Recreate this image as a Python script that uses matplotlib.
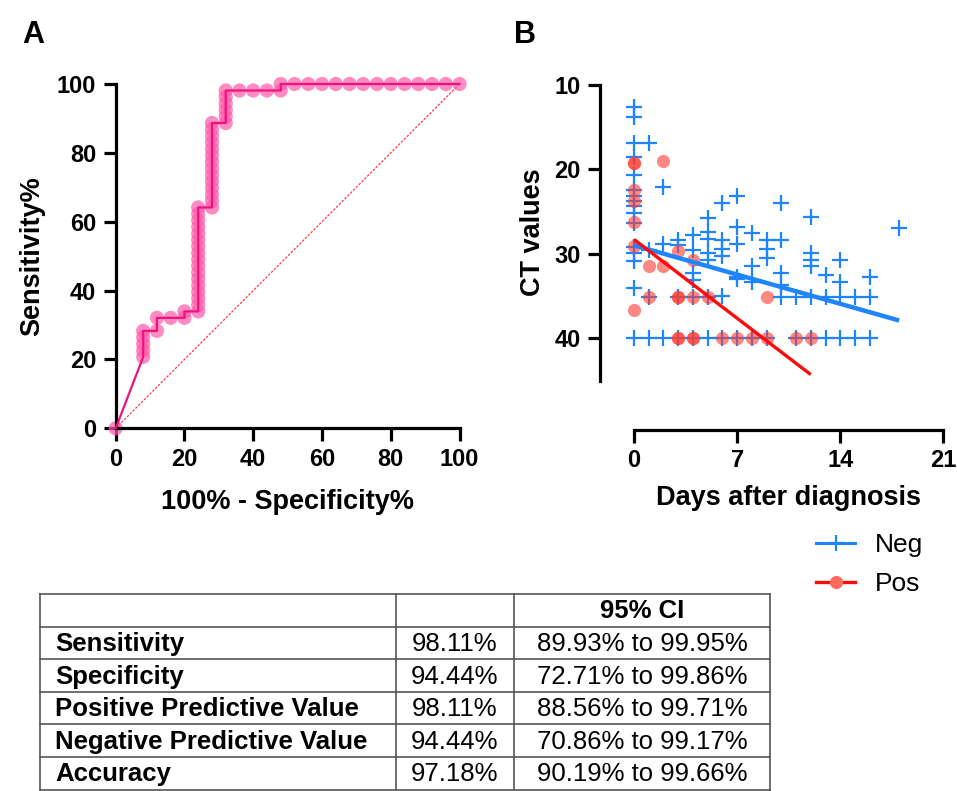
import matplotlib
matplotlib.use("Agg")
import matplotlib.pyplot as plt
from matplotlib.lines import Line2D

plt.rcParams['font.family'] = ['Liberation Sans', 'DejaVu Sans']

# ---------------- data: panel A (ROC) ----------------
roc_fpr = [0,
           8, 8, 8, 8, 8,
           12, 12,
           16,
           20, 20,
           24, 24, 24, 24, 24, 24, 24, 24, 24, 24, 24, 24, 24, 24, 24, 24, 24,
           28, 28, 28, 28, 28, 28, 28, 28, 28, 28, 28, 28, 28, 28,
           32, 32, 32, 32, 32, 32,
           36, 40, 44,
           48, 48,
           52, 56, 60, 64, 68, 72, 76, 80, 84, 88, 92, 96, 100]
roc_sens = [0,
            20.75, 22.64, 24.53, 26.42, 28.30,
            28.30, 32.08,
            32.08,
            32.08, 33.96,
            33.96, 35.85, 37.74, 39.62, 41.51, 43.40, 45.28, 47.17, 49.06,
            50.94, 52.83, 54.72, 56.60, 58.49, 60.38, 62.26, 64.15,
            64.15, 66.04, 67.92, 69.81, 71.70, 73.58, 75.47, 77.36, 79.25,
            81.13, 83.02, 84.91, 86.79, 88.68,
            88.68, 90.57, 92.45, 94.34, 96.23, 98.11,
            98.11, 98.11, 98.11,
            98.11, 100,
            100, 100, 100, 100, 100, 100, 100, 100, 100, 100, 100, 100, 100]
diag_x = [0, 100]
diag_y = [0, 100]
roc_ticks = [0, 20, 40, 60, 80, 100]

# ---------------- data: panel B (CT values) ----------------
neg_day = ([0] * 16 + [1] * 4 + [2] * 3 + [3] * 4 + [4] * 6 + [5] * 7 + [6] * 6 +
           [7] * 6 + [8] * 4 + [9] * 4 + [10] * 5 + [11] * 2 + [12] * 6 + [13] * 3 +
           [14] * 4 + [15] * 2 + [16] * 3 + [18])
neg_ct = [12.6, 13.8, 16.9, 18.5, 20.7, 22.4, 23.2, 23.8, 24.4, 25.2, 26.4, 29.2, 29.9, 30.8, 34.1, 40,
          16.9, 29.6, 35.1, 40,
          22.1, 28.8, 40,
          28.4, 29.0, 35.1, 40,
          27.8, 29.6, 32.3, 33.1, 35.1, 40,
          25.8, 27.4, 28.2, 29.9, 30.7, 35.1, 40,
          24.0, 28.4, 29.4, 30.3, 35.0, 40,
          23.2, 26.8, 28.8, 32.7, 33.0, 40,
          27.6, 31.5, 33.3, 40,
          28.4, 29.4, 30.5, 40,
          24.0, 28.4, 32.3, 33.7, 35.1,
          35.1, 40,
          25.6, 29.9, 30.7, 31.5, 35.1, 40,
          32.5, 35.1, 40,
          30.7, 33.3, 35.1, 40,
          35.1, 40,
          32.7, 35.1, 40,
          27.0]
pos_day = [0, 0, 0, 0, 0, 0, 0,
           1, 1,
           2, 2,
           3, 3, 3, 3, 3,
           4, 4, 4, 4,
           5, 6, 7, 8, 9, 9, 11, 12]
pos_ct = [19.3, 19.3, 22.4, 23.8, 26.2, 29.1, 36.6,
          31.5, 35.1,
          19.0, 31.5,
          29.7, 35.1, 35.1, 40, 40,
          30.7, 35.1, 40, 40,
          35.1, 40, 40, 40, 35.1, 40, 40, 40]
neg_fit_day = [0, 18]
neg_fit_ct = [29.0, 37.9]
pos_fit_day = [0, 12]
pos_fit_ct = [28.3, 44.3]
day_ticks = [0, 7, 14, 21]
ct_ticks = [10, 20, 30, 40]

# ---------------- data: table ----------------
row_names = ["Sensitivity", "Specificity", "Positive Predictive Value",
             "Negative Predictive Value", "Accuracy"]
row_values = ["98.11%", "94.44%", "98.11%", "94.44%", "97.18%"]
row_ci = ["89.93% to 99.95%", "72.71% to 99.86%", "88.56% to 99.71%",
          "70.86% to 99.17%", "90.19% to 99.66%"]
ci_header = "95% CI"

# ---------------- layout helpers ----------------
W, H = 957, 791
fig = plt.figure(figsize=(W / 100, H / 100), dpi=100)


def rect(l, t, r, b):
    return [l / W, 1 - b / H, (r - l) / W, (b - t) / H]


SPW = 2.3
TICKFS = 17
LABFS = 19.5

# ---------------- panel A ----------------
axA = fig.add_axes(rect(115.7, 84, 459.5, 428.3))
axA.set_xlim(0, 100)
axA.set_ylim(0, 100)
axA.plot(diag_x, diag_y, color='#ff3b3b', lw=0.9, ls=(0, (2, 1.2)), zorder=1)
axA.scatter(roc_fpr, roc_sens, s=105, color='#ff5aa8', alpha=0.7,
            edgecolors='none', zorder=2, clip_on=False)
axA.plot(roc_fpr, roc_sens, color='#ee1280', lw=1.6, zorder=3, clip_on=False)
axA.set_xticks(roc_ticks)
axA.set_yticks(roc_ticks)
for s in ['top', 'right']:
    axA.spines[s].set_visible(False)
for s in ['left', 'bottom']:
    axA.spines[s].set_linewidth(SPW)
axA.tick_params(width=SPW, length=9, labelsize=TICKFS, pad=5)
for lab in axA.get_xticklabels() + axA.get_yticklabels():
    lab.set_fontweight('bold')
axA.set_xlabel("100% - Specificity%", fontsize=LABFS, fontweight='bold')
axA.set_ylabel("Sensitivity%", fontsize=LABFS, fontweight='bold')
axA.xaxis.set_label_coords(0.5, -0.175)
axA.yaxis.set_label_coords(-0.205, 0.5)

# ---------------- panel B ----------------
axB = fig.add_axes(rect(600, 84.8, 950.7, 380.5))
axB.set_xlim(-2.31, 21.5)
axB.set_ylim(45, 10)
axB.plot(neg_day, neg_ct, ls='none', marker='+', ms=12, mew=1.6,
         color='#1f85ff', zorder=2, clip_on=False)
axB.plot(pos_day, pos_ct, ls='none', marker='o', ms=9.5, mec='none',
         mfc='#ff3b2f', alpha=0.6, zorder=3, clip_on=False)
axB.plot(neg_fit_day, neg_fit_ct, color='#1f85ff', lw=3.2, zorder=4,
         solid_capstyle='butt')
axB.plot(pos_fit_day, pos_fit_ct, color='#ff0a0a', lw=2.4, zorder=5,
         solid_capstyle='butt')
axB.set_xticks(day_ticks)
axB.set_yticks(ct_ticks)
for s in ['top', 'right']:
    axB.spines[s].set_visible(False)
for s in ['left', 'bottom']:
    axB.spines[s].set_linewidth(SPW)
axB.spines['bottom'].set_position(('outward', 35.6))
axB.spines['bottom'].set_bounds(0, 21)
axB.spines['left'].set_bounds(10, 45)
axB.tick_params(width=SPW, length=9, labelsize=TICKFS, pad=5)
for lab in axB.get_xticklabels() + axB.get_yticklabels():
    lab.set_fontweight('bold')
axB.set_xlabel("Days after diagnosis", fontsize=LABFS, fontweight='bold')
axB.set_ylabel("CT values", fontsize=LABFS, fontweight='bold')
axB.xaxis.set_label_coords((789 - 600) / (950.7 - 600), -(485 - 380.5) / (380.5 - 84.8))
axB.yaxis.set_label_coords(-0.155, 0.5)

handles = [Line2D([], [], color='#1f85ff', lw=2.2, marker='+', ms=12, mew=1.6),
           Line2D([], [], color='#ff0a0a', lw=2.4, marker='o', ms=9.5,
                  mfc='#ff6a5e', mec='none')]
fig.legend(handles, ["Neg", "Pos"], loc='upper left',
           bbox_to_anchor=(792 / W, 1 - 509 / H), frameon=False,
           fontsize=19, handlelength=1.5, handletextpad=0.75, labelspacing=0.58)

fig.text(33 / W, 1 - 35 / H, "A", fontsize=22, fontweight='bold', ha='center', va='center')
fig.text(525 / W, 1 - 35 / H, "B", fontsize=22, fontweight='bold', ha='center', va='center')

# ---------------- table ----------------
ROWH = 32.6
TTOP = 594
axT = fig.add_axes(rect(40, TTOP, 770, TTOP + 6 * ROWH))
axT.set_xlim(0, 730)
axT.set_ylim(6, 0)
axT.axis('off')
col_edges = [0, 356, 474, 730]
lc = '#555555'
for r in range(7):
    axT.plot([0, 730], [r, r], color=lc, lw=1.2, clip_on=False)
for c in col_edges:
    axT.plot([c, c], [0, 6], color=lc, lw=1.2, clip_on=False)
TFS = 18.5
BASE = 0.25
axT.text((col_edges[2] + col_edges[3]) / 2, 1 - BASE, ci_header, ha='center', va='baseline',
         fontsize=TFS, fontweight='bold')
for i, (n, v, ci) in enumerate(zip(row_names, row_values, row_ci)):
    y = i + 2 - BASE
    axT.text(15, y, n, ha='left', va='baseline', fontsize=TFS, fontweight='bold')
    axT.text((col_edges[1] + col_edges[2]) / 2, y, v, ha='center', va='baseline', fontsize=TFS)
    axT.text((col_edges[2] + col_edges[3]) / 2, y, ci, ha='center', va='baseline', fontsize=TFS)

fig.savefig("out.png", dpi=100)
